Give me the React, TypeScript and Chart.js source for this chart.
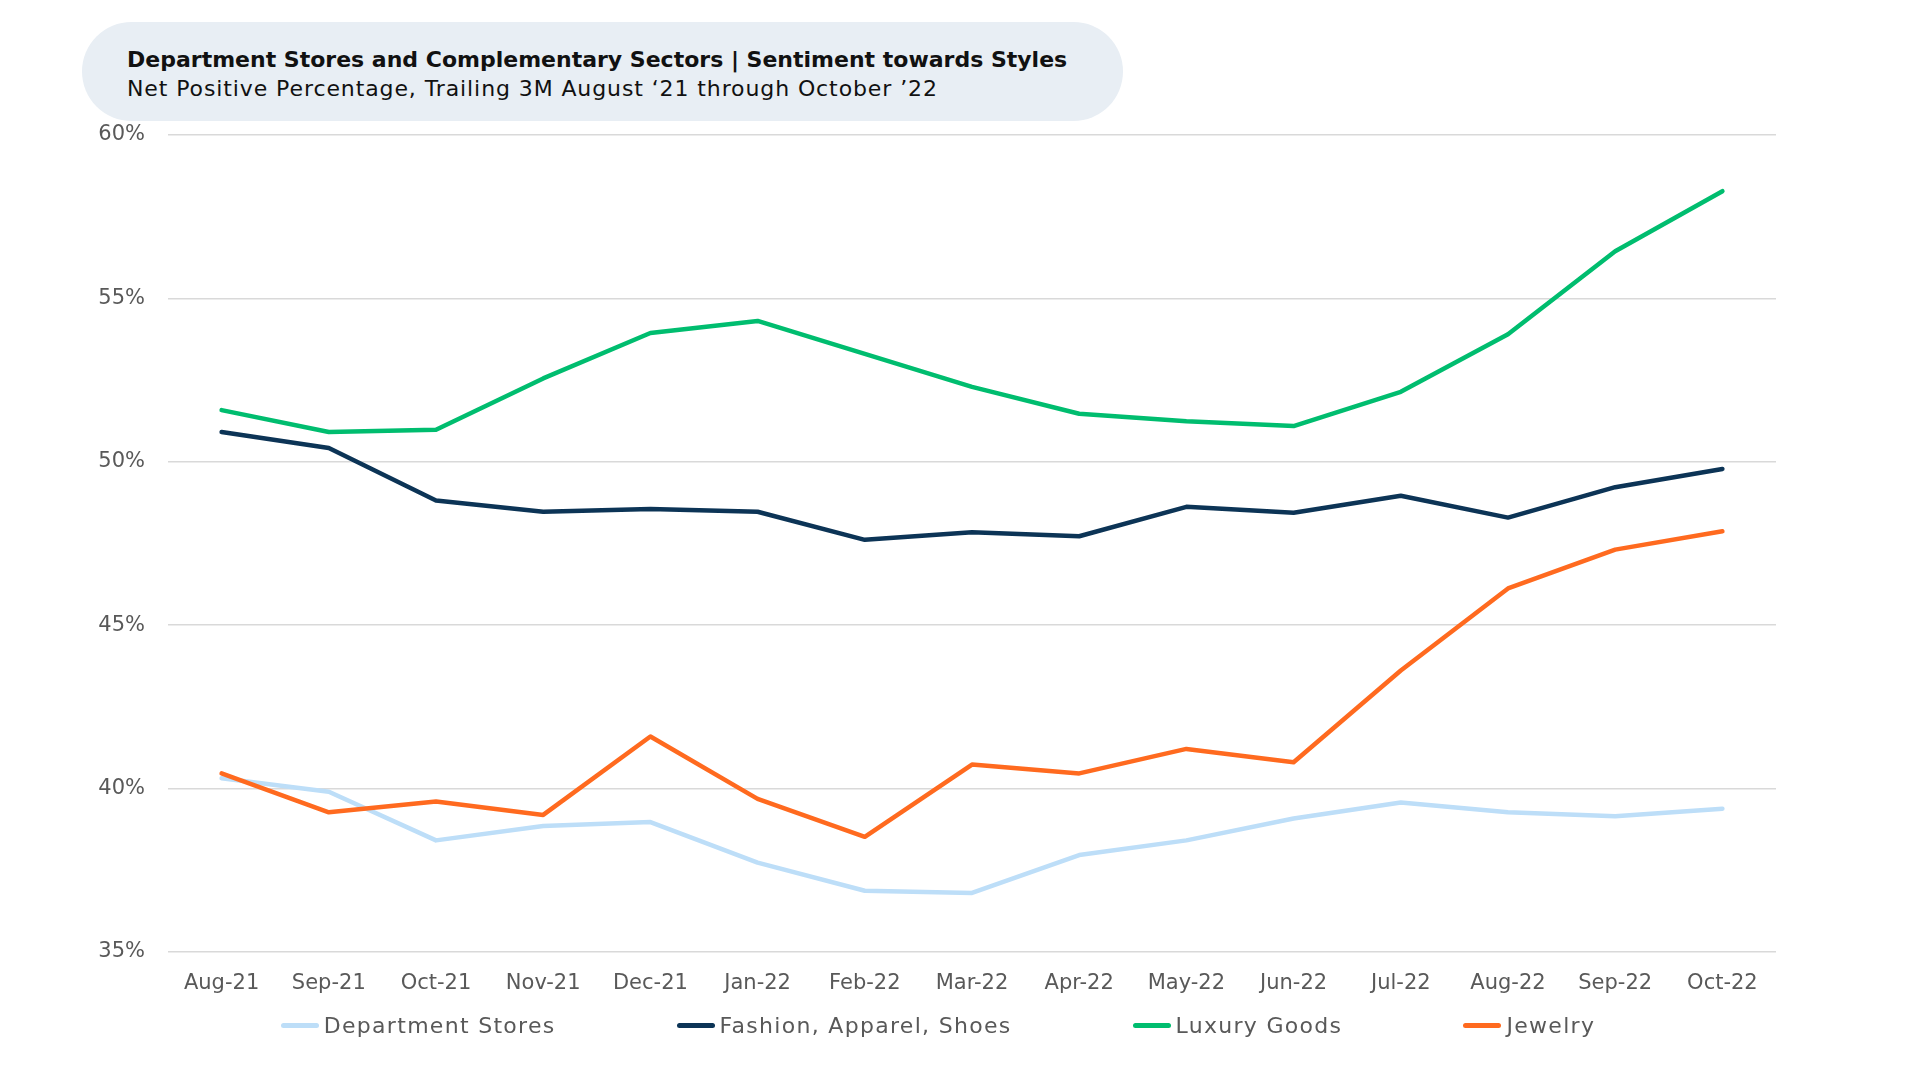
import React, { useEffect, useRef } from "react";
import { Chart, registerables } from "chart.js";

Chart.register(...registerables);

const categories = ["Aug-21", "Sep-21", "Oct-21", "Nov-21", "Dec-21", "Jan-22", "Feb-22", "Mar-22", "Apr-22", "May-22", "Jun-22", "Jul-22", "Aug-22", "Sep-22", "Oct-22"];
const departmentStores = [40.31, 39.9, 38.41, 38.85, 38.97, 37.73, 36.87, 36.8, 37.96, 38.41, 39.08, 39.57, 39.27, 39.15, 39.38];
const fashionApparelShoes = [50.91, 50.42, 48.81, 48.47, 48.55, 48.47, 47.61, 47.84, 47.72, 48.62, 48.44, 48.96, 48.29, 49.22, 49.78];
const luxuryGoods = [51.58, 50.91, 50.98, 52.55, 53.94, 54.31, 53.3, 52.29, 51.47, 51.24, 51.09, 52.14, 53.9, 56.44, 58.28];
const jewelry = [40.46, 39.27, 39.6, 39.19, 41.59, 39.68, 38.52, 40.73, 40.46, 41.21, 40.8, 43.61, 46.12, 47.31, 47.87];
const seriesNames = ["Department Stores", "Fashion, Apparel, Shoes", "Luxury Goods", "Jewelry"];
const seriesColors = ["#BDDEF8", "#0C3456", "#00BD6F", "#FF6A1F"];
const yTicks = [35, 40, 45, 50, 55, 60];

const FONT = "DejaVu Sans";

export default function App() {
  const ref = useRef<HTMLCanvasElement | null>(null);

  useEffect(() => {
    if (!ref.current) return;
    const values = [departmentStores, fashionApparelShoes, luxuryGoods, jewelry];
    const orders = [4, 3, 2, 1];
    const chart = new Chart(ref.current, {
      type: "line",
      data: {
        labels: categories,
        datasets: values.map((v, i) => ({
          label: seriesNames[i],
          data: v,
          borderColor: seriesColors[i],
          backgroundColor: seriesColors[i],
          borderWidth: 4.5,
          pointRadius: 0,
          tension: 0,
          borderCapStyle: "round" as const,
          borderJoinStyle: "round" as const,
          order: orders[i],
        })),
      },
      options: {
        animation: false,
        responsive: false,
        maintainAspectRatio: false,
        layout: { padding: { top: 135, right: 144, left: 0, bottom: 65 } },
        plugins: {
          legend: { display: false },
          tooltip: { enabled: false },
          title: { display: false },
        },
        scales: {
          x: {
            offset: true,
            grid: { display: false, drawTicks: false },
            border: { display: false },
            ticks: {
              color: "#595959",
              font: { family: FONT, size: 21 },
              padding: 19,
              maxRotation: 0,
              autoSkip: false,
            },
          },
          y: {
            min: 35,
            max: 60,
            afterFit: (scale: any) => {
              scale.width = 168;
            },
            afterBuildTicks: (scale: any) => {
              scale.ticks = yTicks.map((v) => ({ value: v }));
            },
            grid: { color: "#D9D9D9", lineWidth: 1.5, drawTicks: false },
            border: { display: false },
            ticks: {
              color: "#595959",
              font: { family: FONT, size: 21 },
              padding: 23,
              callback: (v: any) => `${v}%`,
            },
          },
        },
      },
    });
    return () => chart.destroy();
  }, []);

  return (
    <div style={{ position: "absolute", left: 0, top: 0, width: 1920, height: 1080, background: "#fff", fontFamily: FONT }}>
      <canvas ref={ref} width={1920} height={1080} style={{ position: "absolute", left: 0, top: 0, width: 1920, height: 1080 }} />
      <div
        style={{
          position: "absolute",
          left: 82,
          top: 22,
          width: 1041,
          height: 99,
          borderRadius: 50,
          background: "#E8EEF4",
          boxSizing: "border-box",
          paddingLeft: 45,
          paddingTop: 23,
          color: "#111",
        }}
      >
        <div style={{ fontWeight: 700, fontSize: 22, lineHeight: "29px", whiteSpace: "nowrap" }}>
          Department Stores and Complementary Sectors | Sentiment towards Styles
        </div>
        <div style={{ fontWeight: 400, fontSize: 22, lineHeight: "29px", whiteSpace: "nowrap", letterSpacing: "0.9px" }}>
          Net Positive Percentage, Trailing 3M August ‘21 through October ’22
        </div>
      </div>
      <div
        style={{
          position: "absolute",
          left: 0,
          width: 1876,
          top: 1010,
          height: 30,
          display: "flex",
          justifyContent: "center",
          alignItems: "center",
          gap: 121,
          color: "#595959",
          fontSize: 22,
          letterSpacing: "1.3px",
        }}
      >
        {seriesNames.map((n, i) => (
          <div key={n} style={{ display: "flex", alignItems: "center" }}>
            <span style={{ display: "inline-block", width: 38, height: 5, borderRadius: 3, background: seriesColors[i], marginRight: 5 }} />
            <span>{n}</span>
          </div>
        ))}
      </div>
    </div>
  );
}
